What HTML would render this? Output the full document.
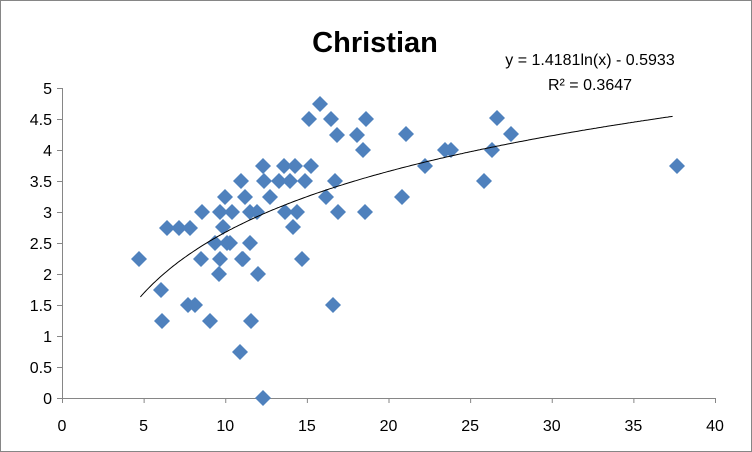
<!DOCTYPE html>
<html><head><style>body{margin:0;background:#fff}svg{display:block}text{font-family:"Liberation Sans",Arial,sans-serif}</style></head>
<body>
<svg width="752" height="452" xmlns="http://www.w3.org/2000/svg">
<rect x="0.5" y="0.5" width="751" height="451" fill="#fff" stroke="#868686"/>
<text x="375" y="52" font-size="29" font-weight="bold" text-anchor="middle">Christian</text>
<text x="590" y="65" font-size="16" text-anchor="middle">y = 1.4181ln(x) - 0.5933</text>
<text x="590" y="90" font-size="16" text-anchor="middle">R² = 0.3647</text>
<g stroke="#868686" stroke-width="1">
<line x1="62.5" y1="88" x2="62.5" y2="398"/>
<line x1="62" y1="398.5" x2="715" y2="398.5"/>
<g id="yt"></g><g id="xt"></g>
</g>
<g id="lab" font-size="16" fill="#000"></g>
<g id="pts" fill="#4f81bd"></g>
<path id="tr" fill="none" stroke="#000" stroke-width="1"/>
</svg>
<script>
var X=function(v){return 62+v*16.325},Y=function(v){return 398-v*62};
var ns="http://www.w3.org/2000/svg",lab=document.getElementById('lab'),yt=document.getElementById('yt'),xt=document.getElementById('xt');
function el(p,t,a,tx){var e=document.createElementNS(ns,t);for(var k in a)e.setAttribute(k,a[k]);if(tx!=null)e.textContent=tx;p.appendChild(e);}
for(var i=0;i<=10;i++){var v=i/2,y=Y(v);el(yt,'line',{x1:57,x2:62,y1:y+.5,y2:y+.5});el(lab,'text',{x:52,y:y+6,'text-anchor':'end'},String(v));}
for(var i=0;i<=8;i++){var v=i*5,x=X(v);el(xt,'line',{x1:x+.5,x2:x+.5,y1:398,y2:403});el(lab,'text',{x:x,y:431,'text-anchor':'middle'},String(v));}
var P=[[139,259],[161,290],[162,321],[167,228],[179,228],[190,228],[188,305],[195,305],[210,321],[201,259],[202,212],[220,212],[232,212],[225,197],[245,197],[223,227],[215,243],[227,243],[250,243],[220,259],[242,259],[219,274],[258,274],[251,321],[240,352],[250,212],[257,212],[270,197],[293,227],[285,212],[297,212],
[320,104],[309,119],[331,119],[366,119],[337,135],[357,135],[406,134],[363,150],[263,166],[284,166],[295,166],[311,166],[241,181],[264,181],[279,181],[290,181],[305,181],[335,181],[326,197],[402,197],[338,212],[365,212],[230,243],[243,259],[302,259],[333,305],[263,398],
[497,118],[511,134],[445,150],[451,150],[492,150],[425,166],[484,181],[677,166]];
var g=document.getElementById('pts');P.forEach(function(p){var x=p[0],y=p[1];el(g,'polygon',{points:(x)+','+(y-8)+' '+(x+8)+','+y+' '+x+','+(y+8)+' '+(x-8)+','+y});});
var d='';for(var v=4.8;v<=37.5;v+=0.1){d+=(d?'L':'M')+X(v).toFixed(1)+','+Y(1.4181*Math.log(v)-0.5933).toFixed(1);}
document.getElementById('tr').setAttribute('d',d);
</script>
</body></html>
